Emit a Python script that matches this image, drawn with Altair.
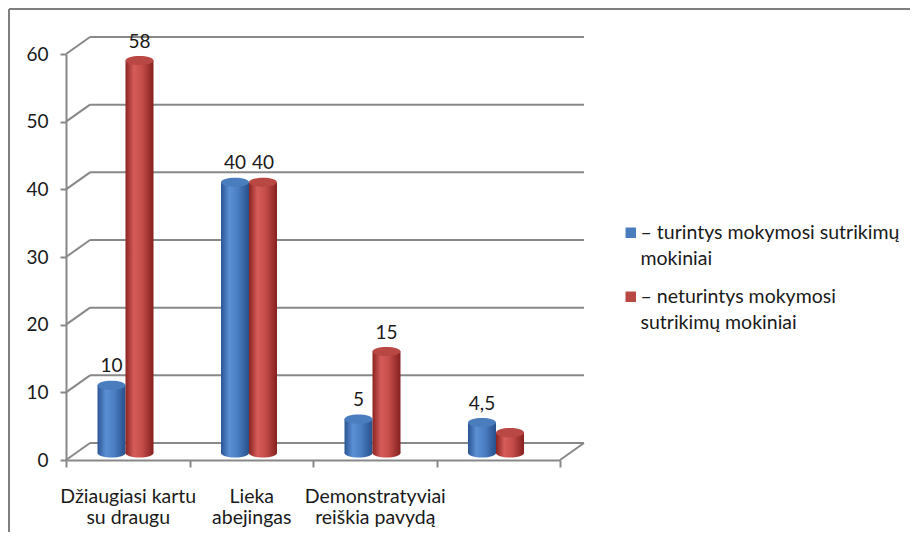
import altair as alt
import pandas as pd

categories = ["Džiaugiasi kartu|su draugu", "Lieka|abejingas", "Demonstratyviai|reiškia pavydą", ""]
series = ["– turintys mokymosi sutrikimų|mokiniai", "– neturintys mokymosi|sutrikimų mokiniai"]
blue_values = [10, 40, 5, 4.5]
red_values = [58, 40, 15, 3]
blue_labels = ["10", "40", "5", "4,5"]
red_labels = ["58", "40", "15", ""]
y_ticks = [0, 10, 20, 30, 40, 50, 60]

rows = []
for c, v, l in zip(categories, blue_values, blue_labels):
    rows.append({"cat": c, "series": series[0], "value": v, "label": l})
for c, v, l in zip(categories, red_values, red_labels):
    rows.append({"cat": c, "series": series[1], "value": v, "label": l})
df = pd.DataFrame(rows)
grid_df = pd.DataFrame({"tick": y_ticks})

FONT = "Lato"
GRID = "#888888"
TXT = "#1a1a1a"
W, H = 494, 406
DX, DY = 24, -17
BY = -7

blue_grad = {"gradient": "linear", "x1": 0, "x2": 1, "y1": 0, "y2": 0,
             "stops": [{"offset": 0, "color": "#2a5593"},
                       {"offset": 0.3, "color": "#5b90d4"},
                       {"offset": 0.6, "color": "#4a7ec2"},
                       {"offset": 1, "color": "#284f8a"}]}
red_grad = {"gradient": "linear", "x1": 0, "x2": 1, "y1": 0, "y2": 0,
            "stops": [{"offset": 0, "color": "#8a2421"},
                      {"offset": 0.3, "color": "#d65c59"},
                      {"offset": 0.6, "color": "#c34c49"},
                      {"offset": 1, "color": "#84211f"}]}

xs = alt.Scale(domain=categories, paddingInner=0, paddingOuter=0)
xo = alt.Scale(domain=series, paddingInner=0, paddingOuter=0, range=[31.5, 87.5])
ys = alt.Scale(domain=[0, 60], nice=False, zero=True)

ELLIPSE = "M-1,0 A1,0.33 0 1,1 1,0 A1,0.33 0 1,1 -1,0 Z"

base = alt.Chart(df)

x_enc = alt.X("cat:N", scale=xs, sort=categories, title=None,
              axis=alt.Axis(labelExpr="split(datum.label, '|')", labelAngle=0,
                            tickBand="extent", tickSize=7, labelPadding=20,
                            domainColor=GRID, tickColor=GRID, domainWidth=2, tickWidth=2,
                            labelFont=FONT, labelFontSize=19.5, labelColor=TXT,
                            labelLineHeight=21))
y_enc = alt.Y("value:Q", scale=ys, title=None,
              axis=alt.Axis(values=y_ticks, grid=False, tickSize=6, labelPadding=12,
                            domainColor=GRID, tickColor=GRID, domainWidth=2, tickWidth=2,
                            labelFont=FONT, labelFontSize=19, labelColor=TXT))
xo_enc = alt.XOffset("series:N", scale=xo, sort=series)

# back-plane gridlines
grid = alt.Chart(grid_df).mark_rule(color=GRID, strokeWidth=2, yOffset=DY).encode(
    y=alt.Y("tick:Q", scale=ys), x=alt.value(DX), x2=alt.value(W + DX))
conn = alt.Chart(grid_df).mark_rule(color=GRID, strokeWidth=2, y2Offset=DY).encode(
    y=alt.Y("tick:Q", scale=ys), y2="tick:Q", x=alt.value(0), x2=alt.value(DX))
floor_right = alt.Chart(grid_df).transform_filter("datum.tick == 0").mark_rule(
    color=GRID, strokeWidth=2, y2Offset=DY).encode(
    y=alt.Y("tick:Q", scale=ys), y2="tick:Q", x=alt.value(W), x2=alt.value(W + DX))

layers = [grid, conn, floor_right]
for s, grad in zip(series, [blue_grad, red_grad]):
    sub = base.transform_filter(alt.datum.series == s)
    bottom = sub.transform_calculate(zero="0").mark_point(
        shape=ELLIPSE, size=784, filled=True, fill=grad,
        opacity=1, strokeWidth=0, yOffset=BY).encode(
        x=x_enc, xOffset=xo_enc, y=alt.Y("zero:Q", scale=ys))
    bar = sub.mark_bar(color=grad, yOffset=BY, y2Offset=BY).encode(
        x=x_enc, xOffset=xo_enc, y=y_enc, y2=alt.datum(0))
    layers += [bottom, bar]

tops = base.mark_point(shape=ELLIPSE, size=784, filled=True, opacity=1,
                       strokeWidth=0, yOffset=BY).encode(
    x=x_enc, xOffset=xo_enc, y=alt.Y("value:Q", scale=ys),
    fill=alt.Fill("series:N", sort=series,
                  scale=alt.Scale(domain=series, range=["#4a7dbd", "#b94744"]),
                  legend=alt.Legend(title=None, orient="none", legendX=555, legendY=169,
                                    symbolType="square", symbolSize=110,
                                    symbolStrokeWidth=0, labelFont=FONT,
                                    labelFontSize=19.5, labelColor=TXT,
                                    labelOffset=0,
                                    labelExpr="split(datum.label, '|')",
                                    rowPadding=17, labelLimit=400, padding=0)))
texts = base.mark_text(font=FONT, fontSize=19, color=TXT, baseline="alphabetic", dy=-20).encode(
    x=x_enc, xOffset=xo_enc, y=alt.Y("value:Q", scale=ys), text="label:N")

border_top = alt.Chart(grid_df).transform_filter("datum.tick == 0").mark_rule(
    color="#7f7f7f", strokeWidth=2).encode(
    x=alt.value(-57), x2=alt.value(851), y=alt.value(-45))
border_left = alt.Chart(grid_df).transform_filter("datum.tick == 0").mark_rule(
    color="#7f7f7f", strokeWidth=2).encode(
    x=alt.value(-57), y=alt.value(-45), y2=alt.value(480))

layers += [tops, texts, border_top, border_left]

chart = alt.layer(*layers).properties(
    width=W, height=H,
    autosize=alt.AutoSizeParams(type="none"),
    padding={"left": 58, "top": 46, "right": 350, "bottom": 72},
    background="white",
).configure(view={"stroke": None}, style={"guide-label": {"lineHeight": 26}})

chart.save("out.html", embed_options={"renderer": "svg", "actions": False})
